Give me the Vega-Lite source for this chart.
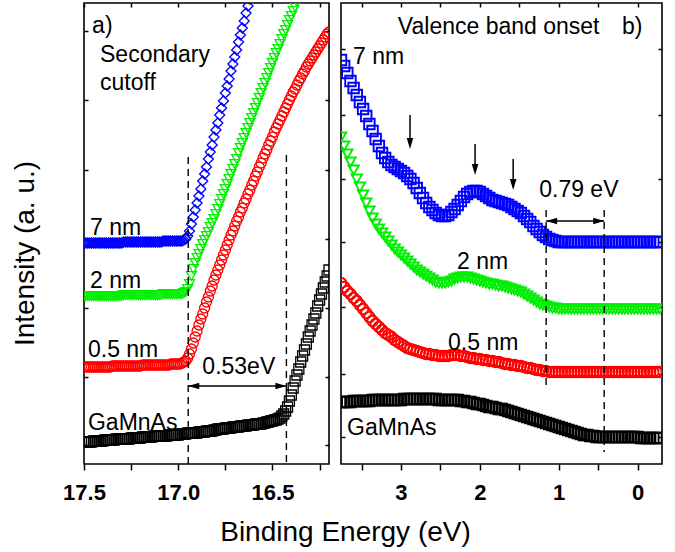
{
"$schema":"https://vega.github.io/schema/vega-lite/v6.json",
"padding":{"left":10,"top":1,"right":0,"bottom":0},
"background":"white",
"config":{"font":"Liberation Sans","view":{"stroke":"black","strokeWidth":1.6},
"axis":{"domain":false,"grid":false,"tickColor":"black","tickWidth":1.5,"labelColor":"black","labelFont":"Liberation Sans","labelFontSize":22,"labelFontWeight":"bold","titleFont":"Liberation Sans","titleFontSize":28,"titleFontWeight":"normal","titleColor":"black","labelPadding":12,"labelFlush":false,"labelOverlap":false}},
"bounds":"flush",
"spacing":12,
"resolve":{"scale":{"color":"independent","shape":"independent","x":"independent","y":"independent"}},
"datasets":{
"a":[
{"s":"7 nm","x":17.5,"y":221},{"s":"7 nm","x":17.48,"y":221},{"s":"7 nm","x":17.46,"y":221},{"s":"7 nm","x":17.44,"y":221},{"s":"7 nm","x":17.42,"y":221},{"s":"7 nm","x":17.4,"y":221},{"s":"7 nm","x":17.38,"y":221},{"s":"7 nm","x":17.36,"y":221},{"s":"7 nm","x":17.34,"y":221},{"s":"7 nm","x":17.32,"y":221},{"s":"7 nm","x":17.3,"y":221},{"s":"7 nm","x":17.28,"y":222},{"s":"7 nm","x":17.26,"y":222},{"s":"7 nm","x":17.24,"y":222},{"s":"7 nm","x":17.22,"y":222},{"s":"7 nm","x":17.2,"y":222},{"s":"7 nm","x":17.18,"y":222},{"s":"7 nm","x":17.16,"y":222},{"s":"7 nm","x":17.14,"y":222},{"s":"7 nm","x":17.12,"y":222},{"s":"7 nm","x":17.1,"y":222},{"s":"7 nm","x":17.08,"y":223},{"s":"7 nm","x":17.06,"y":223},{"s":"7 nm","x":17.04,"y":223},{"s":"7 nm","x":17.02,"y":223},{"s":"7 nm","x":17,"y":223},{"s":"7 nm","x":16.98,"y":223},
{"s":"7 nm","x":17.49,"y":221},{"s":"7 nm","x":17.47,"y":221},{"s":"7 nm","x":17.45,"y":221},{"s":"7 nm","x":17.43,"y":221},{"s":"7 nm","x":17.41,"y":221},{"s":"7 nm","x":17.39,"y":221},{"s":"7 nm","x":17.37,"y":221},{"s":"7 nm","x":17.35,"y":221},{"s":"7 nm","x":17.33,"y":221},{"s":"7 nm","x":17.31,"y":221},{"s":"7 nm","x":17.29,"y":222},{"s":"7 nm","x":17.27,"y":222},{"s":"7 nm","x":17.25,"y":222},{"s":"7 nm","x":17.23,"y":222},{"s":"7 nm","x":17.21,"y":222},{"s":"7 nm","x":17.19,"y":222},{"s":"7 nm","x":17.17,"y":222},{"s":"7 nm","x":17.15,"y":222},{"s":"7 nm","x":17.13,"y":222},{"s":"7 nm","x":17.11,"y":222},{"s":"7 nm","x":17.09,"y":222},{"s":"7 nm","x":17.07,"y":223},{"s":"7 nm","x":17.05,"y":223},{"s":"7 nm","x":17.03,"y":223},{"s":"7 nm","x":17.01,"y":223},{"s":"7 nm","x":16.99,"y":223},
{"s":"7 nm","x":16.97,"y":224},{"s":"7 nm","x":16.96,"y":225},{"s":"7 nm","x":16.95,"y":228},{"s":"7 nm","x":16.94,"y":233},{"s":"7 nm","x":16.93,"y":240},{"s":"7 nm","x":16.92,"y":247},{"s":"7 nm","x":16.91,"y":254},{"s":"7 nm","x":16.9,"y":261},{"s":"7 nm","x":16.89,"y":268},{"s":"7 nm","x":16.88,"y":275},{"s":"7 nm","x":16.87,"y":283},{"s":"7 nm","x":16.86,"y":290},{"s":"7 nm","x":16.85,"y":297},{"s":"7 nm","x":16.84,"y":305},{"s":"7 nm","x":16.83,"y":312},{"s":"7 nm","x":16.82,"y":319},{"s":"7 nm","x":16.81,"y":327},{"s":"7 nm","x":16.8,"y":334},{"s":"7 nm","x":16.79,"y":341},{"s":"7 nm","x":16.78,"y":349},{"s":"7 nm","x":16.77,"y":356},{"s":"7 nm","x":16.76,"y":363},{"s":"7 nm","x":16.75,"y":371},{"s":"7 nm","x":16.74,"y":378},{"s":"7 nm","x":16.73,"y":385},{"s":"7 nm","x":16.72,"y":393},{"s":"7 nm","x":16.71,"y":400},{"s":"7 nm","x":16.7,"y":407},{"s":"7 nm","x":16.69,"y":414},{"s":"7 nm","x":16.68,"y":422},{"s":"7 nm","x":16.67,"y":429},{"s":"7 nm","x":16.66,"y":436},{"s":"7 nm","x":16.65,"y":443},{"s":"7 nm","x":16.64,"y":451},{"s":"7 nm","x":16.63,"y":458},{"s":"7 nm","x":16.62,"y":465},
{"s":"2 nm","x":17.5,"y":168},{"s":"2 nm","x":17.48,"y":168},{"s":"2 nm","x":17.46,"y":168},{"s":"2 nm","x":17.44,"y":168},{"s":"2 nm","x":17.42,"y":168},{"s":"2 nm","x":17.4,"y":168},{"s":"2 nm","x":17.38,"y":168},{"s":"2 nm","x":17.36,"y":168},{"s":"2 nm","x":17.34,"y":168},{"s":"2 nm","x":17.32,"y":168},{"s":"2 nm","x":17.3,"y":168},{"s":"2 nm","x":17.28,"y":169},{"s":"2 nm","x":17.26,"y":169},{"s":"2 nm","x":17.24,"y":169},{"s":"2 nm","x":17.22,"y":169},{"s":"2 nm","x":17.2,"y":169},{"s":"2 nm","x":17.18,"y":169},{"s":"2 nm","x":17.16,"y":169},{"s":"2 nm","x":17.14,"y":169},{"s":"2 nm","x":17.12,"y":169},{"s":"2 nm","x":17.1,"y":169},{"s":"2 nm","x":17.08,"y":170},{"s":"2 nm","x":17.06,"y":170},{"s":"2 nm","x":17.04,"y":170},{"s":"2 nm","x":17.02,"y":170},{"s":"2 nm","x":17,"y":170},{"s":"2 nm","x":16.98,"y":170},
{"s":"2 nm","x":17.49,"y":168},{"s":"2 nm","x":17.47,"y":168},{"s":"2 nm","x":17.45,"y":168},{"s":"2 nm","x":17.43,"y":168},{"s":"2 nm","x":17.41,"y":168},{"s":"2 nm","x":17.39,"y":168},{"s":"2 nm","x":17.37,"y":168},{"s":"2 nm","x":17.35,"y":168},{"s":"2 nm","x":17.33,"y":168},{"s":"2 nm","x":17.31,"y":168},{"s":"2 nm","x":17.29,"y":169},{"s":"2 nm","x":17.27,"y":169},{"s":"2 nm","x":17.25,"y":169},{"s":"2 nm","x":17.23,"y":169},{"s":"2 nm","x":17.21,"y":169},{"s":"2 nm","x":17.19,"y":169},{"s":"2 nm","x":17.17,"y":169},{"s":"2 nm","x":17.15,"y":169},{"s":"2 nm","x":17.13,"y":169},{"s":"2 nm","x":17.11,"y":169},{"s":"2 nm","x":17.09,"y":169},{"s":"2 nm","x":17.07,"y":170},{"s":"2 nm","x":17.05,"y":170},{"s":"2 nm","x":17.03,"y":170},{"s":"2 nm","x":17.01,"y":170},{"s":"2 nm","x":16.99,"y":170},
{"s":"2 nm","x":16.97,"y":171},{"s":"2 nm","x":16.96,"y":172},{"s":"2 nm","x":16.95,"y":175},{"s":"2 nm","x":16.94,"y":180},{"s":"2 nm","x":16.93,"y":188},{"s":"2 nm","x":16.92,"y":195},{"s":"2 nm","x":16.91,"y":201},{"s":"2 nm","x":16.9,"y":206},{"s":"2 nm","x":16.89,"y":210},{"s":"2 nm","x":16.88,"y":215},{"s":"2 nm","x":16.87,"y":220},{"s":"2 nm","x":16.86,"y":224},{"s":"2 nm","x":16.85,"y":228},{"s":"2 nm","x":16.84,"y":232},{"s":"2 nm","x":16.83,"y":237},{"s":"2 nm","x":16.82,"y":241},{"s":"2 nm","x":16.81,"y":245},{"s":"2 nm","x":16.8,"y":250},{"s":"2 nm","x":16.79,"y":255},{"s":"2 nm","x":16.78,"y":260},{"s":"2 nm","x":16.77,"y":265},{"s":"2 nm","x":16.76,"y":270},{"s":"2 nm","x":16.75,"y":275},{"s":"2 nm","x":16.74,"y":280},{"s":"2 nm","x":16.73,"y":285},{"s":"2 nm","x":16.72,"y":290},{"s":"2 nm","x":16.71,"y":295},{"s":"2 nm","x":16.7,"y":300},{"s":"2 nm","x":16.69,"y":305},{"s":"2 nm","x":16.68,"y":311},{"s":"2 nm","x":16.67,"y":316},{"s":"2 nm","x":16.66,"y":321},{"s":"2 nm","x":16.65,"y":326},{"s":"2 nm","x":16.64,"y":331},{"s":"2 nm","x":16.63,"y":336},{"s":"2 nm","x":16.62,"y":341},{"s":"2 nm","x":16.61,"y":346},{"s":"2 nm","x":16.6,"y":351},{"s":"2 nm","x":16.59,"y":356},{"s":"2 nm","x":16.58,"y":361},{"s":"2 nm","x":16.57,"y":366},{"s":"2 nm","x":16.56,"y":371},{"s":"2 nm","x":16.55,"y":376},{"s":"2 nm","x":16.54,"y":381},{"s":"2 nm","x":16.53,"y":386},{"s":"2 nm","x":16.52,"y":391},{"s":"2 nm","x":16.51,"y":396},{"s":"2 nm","x":16.5,"y":401},{"s":"2 nm","x":16.49,"y":406},{"s":"2 nm","x":16.48,"y":411},{"s":"2 nm","x":16.47,"y":415},{"s":"2 nm","x":16.46,"y":420},{"s":"2 nm","x":16.45,"y":425},{"s":"2 nm","x":16.44,"y":430},{"s":"2 nm","x":16.43,"y":434},{"s":"2 nm","x":16.42,"y":439},{"s":"2 nm","x":16.41,"y":444},{"s":"2 nm","x":16.4,"y":448},{"s":"2 nm","x":16.39,"y":453},{"s":"2 nm","x":16.38,"y":457},{"s":"2 nm","x":16.37,"y":462},{"s":"2 nm","x":16.36,"y":466},
{"s":"0.5 nm","x":17.5,"y":97},{"s":"0.5 nm","x":17.48,"y":97},{"s":"0.5 nm","x":17.46,"y":97},{"s":"0.5 nm","x":17.44,"y":97},{"s":"0.5 nm","x":17.42,"y":97},{"s":"0.5 nm","x":17.4,"y":97},{"s":"0.5 nm","x":17.38,"y":97},{"s":"0.5 nm","x":17.36,"y":97},{"s":"0.5 nm","x":17.34,"y":98},{"s":"0.5 nm","x":17.32,"y":98},{"s":"0.5 nm","x":17.3,"y":98},{"s":"0.5 nm","x":17.28,"y":98},{"s":"0.5 nm","x":17.26,"y":98},{"s":"0.5 nm","x":17.24,"y":98},{"s":"0.5 nm","x":17.22,"y":98},{"s":"0.5 nm","x":17.2,"y":98},{"s":"0.5 nm","x":17.18,"y":99},{"s":"0.5 nm","x":17.16,"y":99},{"s":"0.5 nm","x":17.14,"y":99},{"s":"0.5 nm","x":17.12,"y":99},{"s":"0.5 nm","x":17.1,"y":99},{"s":"0.5 nm","x":17.08,"y":99},{"s":"0.5 nm","x":17.06,"y":99},{"s":"0.5 nm","x":17.04,"y":100},{"s":"0.5 nm","x":17.02,"y":100},{"s":"0.5 nm","x":17,"y":100},{"s":"0.5 nm","x":16.98,"y":101},
{"s":"0.5 nm","x":17.49,"y":97},{"s":"0.5 nm","x":17.47,"y":97},{"s":"0.5 nm","x":17.45,"y":97},{"s":"0.5 nm","x":17.43,"y":97},{"s":"0.5 nm","x":17.41,"y":97},{"s":"0.5 nm","x":17.39,"y":97},{"s":"0.5 nm","x":17.37,"y":97},{"s":"0.5 nm","x":17.35,"y":98},{"s":"0.5 nm","x":17.33,"y":98},{"s":"0.5 nm","x":17.31,"y":98},{"s":"0.5 nm","x":17.29,"y":98},{"s":"0.5 nm","x":17.27,"y":98},{"s":"0.5 nm","x":17.25,"y":98},{"s":"0.5 nm","x":17.23,"y":98},{"s":"0.5 nm","x":17.21,"y":98},{"s":"0.5 nm","x":17.19,"y":99},{"s":"0.5 nm","x":17.17,"y":99},{"s":"0.5 nm","x":17.15,"y":99},{"s":"0.5 nm","x":17.13,"y":99},{"s":"0.5 nm","x":17.11,"y":99},{"s":"0.5 nm","x":17.09,"y":99},{"s":"0.5 nm","x":17.07,"y":99},{"s":"0.5 nm","x":17.05,"y":99},{"s":"0.5 nm","x":17.03,"y":100},{"s":"0.5 nm","x":17.01,"y":100},{"s":"0.5 nm","x":16.99,"y":100},
{"s":"0.5 nm","x":16.97,"y":102},{"s":"0.5 nm","x":16.96,"y":103},{"s":"0.5 nm","x":16.95,"y":106},{"s":"0.5 nm","x":16.94,"y":110},{"s":"0.5 nm","x":16.93,"y":115},{"s":"0.5 nm","x":16.92,"y":121},{"s":"0.5 nm","x":16.91,"y":127},{"s":"0.5 nm","x":16.9,"y":133},{"s":"0.5 nm","x":16.89,"y":139},{"s":"0.5 nm","x":16.88,"y":145},{"s":"0.5 nm","x":16.87,"y":150},{"s":"0.5 nm","x":16.86,"y":156},{"s":"0.5 nm","x":16.85,"y":162},{"s":"0.5 nm","x":16.84,"y":167},{"s":"0.5 nm","x":16.83,"y":173},{"s":"0.5 nm","x":16.82,"y":178},{"s":"0.5 nm","x":16.81,"y":184},{"s":"0.5 nm","x":16.8,"y":189},{"s":"0.5 nm","x":16.79,"y":194},{"s":"0.5 nm","x":16.78,"y":199},{"s":"0.5 nm","x":16.77,"y":204},{"s":"0.5 nm","x":16.76,"y":209},{"s":"0.5 nm","x":16.75,"y":214},{"s":"0.5 nm","x":16.74,"y":219},{"s":"0.5 nm","x":16.73,"y":224},{"s":"0.5 nm","x":16.72,"y":229},{"s":"0.5 nm","x":16.71,"y":233},{"s":"0.5 nm","x":16.7,"y":238},{"s":"0.5 nm","x":16.69,"y":243},{"s":"0.5 nm","x":16.68,"y":247},{"s":"0.5 nm","x":16.67,"y":252},{"s":"0.5 nm","x":16.66,"y":256},{"s":"0.5 nm","x":16.65,"y":261},{"s":"0.5 nm","x":16.64,"y":265},{"s":"0.5 nm","x":16.63,"y":270},{"s":"0.5 nm","x":16.62,"y":274},{"s":"0.5 nm","x":16.61,"y":279},{"s":"0.5 nm","x":16.6,"y":283},{"s":"0.5 nm","x":16.59,"y":288},{"s":"0.5 nm","x":16.58,"y":292},{"s":"0.5 nm","x":16.57,"y":297},{"s":"0.5 nm","x":16.56,"y":301},{"s":"0.5 nm","x":16.55,"y":306},{"s":"0.5 nm","x":16.54,"y":310},{"s":"0.5 nm","x":16.53,"y":314},{"s":"0.5 nm","x":16.52,"y":319},{"s":"0.5 nm","x":16.51,"y":323},{"s":"0.5 nm","x":16.5,"y":327},{"s":"0.5 nm","x":16.49,"y":332},{"s":"0.5 nm","x":16.48,"y":336},{"s":"0.5 nm","x":16.47,"y":340},{"s":"0.5 nm","x":16.46,"y":344},{"s":"0.5 nm","x":16.45,"y":348},{"s":"0.5 nm","x":16.44,"y":352},{"s":"0.5 nm","x":16.43,"y":356},{"s":"0.5 nm","x":16.42,"y":360},{"s":"0.5 nm","x":16.41,"y":364},{"s":"0.5 nm","x":16.4,"y":368},{"s":"0.5 nm","x":16.39,"y":372},{"s":"0.5 nm","x":16.38,"y":375},{"s":"0.5 nm","x":16.37,"y":379},{"s":"0.5 nm","x":16.36,"y":383},{"s":"0.5 nm","x":16.35,"y":386},{"s":"0.5 nm","x":16.34,"y":390},{"s":"0.5 nm","x":16.33,"y":393},{"s":"0.5 nm","x":16.32,"y":397},{"s":"0.5 nm","x":16.31,"y":400},{"s":"0.5 nm","x":16.3,"y":403},{"s":"0.5 nm","x":16.29,"y":406},{"s":"0.5 nm","x":16.28,"y":409},{"s":"0.5 nm","x":16.27,"y":412},{"s":"0.5 nm","x":16.26,"y":415},{"s":"0.5 nm","x":16.25,"y":418},{"s":"0.5 nm","x":16.24,"y":421},{"s":"0.5 nm","x":16.23,"y":424},{"s":"0.5 nm","x":16.22,"y":427},{"s":"0.5 nm","x":16.21,"y":430},{"s":"0.5 nm","x":16.2,"y":432},
{"s":"GaMnAs","x":17.5,"y":22},{"s":"GaMnAs","x":17.48,"y":22},{"s":"GaMnAs","x":17.46,"y":22},{"s":"GaMnAs","x":17.44,"y":23},{"s":"GaMnAs","x":17.42,"y":23},{"s":"GaMnAs","x":17.4,"y":23},{"s":"GaMnAs","x":17.38,"y":24},{"s":"GaMnAs","x":17.36,"y":24},{"s":"GaMnAs","x":17.34,"y":24},{"s":"GaMnAs","x":17.32,"y":25},{"s":"GaMnAs","x":17.3,"y":25},{"s":"GaMnAs","x":17.28,"y":25},{"s":"GaMnAs","x":17.26,"y":25},{"s":"GaMnAs","x":17.24,"y":26},{"s":"GaMnAs","x":17.22,"y":26},{"s":"GaMnAs","x":17.2,"y":26},{"s":"GaMnAs","x":17.18,"y":27},{"s":"GaMnAs","x":17.16,"y":27},{"s":"GaMnAs","x":17.14,"y":27},{"s":"GaMnAs","x":17.12,"y":28},{"s":"GaMnAs","x":17.1,"y":28},{"s":"GaMnAs","x":17.08,"y":28},{"s":"GaMnAs","x":17.06,"y":28},{"s":"GaMnAs","x":17.04,"y":29},{"s":"GaMnAs","x":17.02,"y":29},{"s":"GaMnAs","x":17,"y":29},{"s":"GaMnAs","x":16.98,"y":30},{"s":"GaMnAs","x":16.96,"y":30},{"s":"GaMnAs","x":16.94,"y":31},{"s":"GaMnAs","x":16.92,"y":31},{"s":"GaMnAs","x":16.9,"y":31},{"s":"GaMnAs","x":16.88,"y":32},{"s":"GaMnAs","x":16.86,"y":32},{"s":"GaMnAs","x":16.84,"y":33},{"s":"GaMnAs","x":16.82,"y":33},{"s":"GaMnAs","x":16.8,"y":34},{"s":"GaMnAs","x":16.78,"y":35},{"s":"GaMnAs","x":16.76,"y":35},{"s":"GaMnAs","x":16.74,"y":36},{"s":"GaMnAs","x":16.72,"y":36},{"s":"GaMnAs","x":16.7,"y":37},{"s":"GaMnAs","x":16.68,"y":37},{"s":"GaMnAs","x":16.66,"y":38},{"s":"GaMnAs","x":16.64,"y":38},{"s":"GaMnAs","x":16.62,"y":39},{"s":"GaMnAs","x":16.6,"y":39},{"s":"GaMnAs","x":16.58,"y":40},{"s":"GaMnAs","x":16.56,"y":40},{"s":"GaMnAs","x":16.54,"y":41},{"s":"GaMnAs","x":16.52,"y":42},{"s":"GaMnAs","x":16.5,"y":43},{"s":"GaMnAs","x":16.48,"y":44},{"s":"GaMnAs","x":16.46,"y":46},
{"s":"GaMnAs","x":17.49,"y":22},{"s":"GaMnAs","x":17.47,"y":22},{"s":"GaMnAs","x":17.45,"y":23},{"s":"GaMnAs","x":17.43,"y":23},{"s":"GaMnAs","x":17.41,"y":23},{"s":"GaMnAs","x":17.39,"y":24},{"s":"GaMnAs","x":17.37,"y":24},{"s":"GaMnAs","x":17.35,"y":24},{"s":"GaMnAs","x":17.33,"y":25},{"s":"GaMnAs","x":17.31,"y":25},{"s":"GaMnAs","x":17.29,"y":25},{"s":"GaMnAs","x":17.27,"y":25},{"s":"GaMnAs","x":17.25,"y":26},{"s":"GaMnAs","x":17.23,"y":26},{"s":"GaMnAs","x":17.21,"y":26},{"s":"GaMnAs","x":17.19,"y":27},{"s":"GaMnAs","x":17.17,"y":27},{"s":"GaMnAs","x":17.15,"y":27},{"s":"GaMnAs","x":17.13,"y":28},{"s":"GaMnAs","x":17.11,"y":28},{"s":"GaMnAs","x":17.09,"y":28},{"s":"GaMnAs","x":17.07,"y":28},{"s":"GaMnAs","x":17.05,"y":29},{"s":"GaMnAs","x":17.03,"y":29},{"s":"GaMnAs","x":17.01,"y":29},{"s":"GaMnAs","x":16.99,"y":30},{"s":"GaMnAs","x":16.97,"y":30},{"s":"GaMnAs","x":16.95,"y":31},{"s":"GaMnAs","x":16.93,"y":31},{"s":"GaMnAs","x":16.91,"y":31},{"s":"GaMnAs","x":16.89,"y":32},{"s":"GaMnAs","x":16.87,"y":32},{"s":"GaMnAs","x":16.85,"y":33},{"s":"GaMnAs","x":16.83,"y":33},{"s":"GaMnAs","x":16.81,"y":34},{"s":"GaMnAs","x":16.79,"y":35},{"s":"GaMnAs","x":16.77,"y":35},{"s":"GaMnAs","x":16.75,"y":36},{"s":"GaMnAs","x":16.73,"y":36},{"s":"GaMnAs","x":16.71,"y":37},{"s":"GaMnAs","x":16.69,"y":37},{"s":"GaMnAs","x":16.67,"y":38},{"s":"GaMnAs","x":16.65,"y":38},{"s":"GaMnAs","x":16.63,"y":39},{"s":"GaMnAs","x":16.61,"y":39},{"s":"GaMnAs","x":16.59,"y":40},{"s":"GaMnAs","x":16.57,"y":40},{"s":"GaMnAs","x":16.55,"y":41},{"s":"GaMnAs","x":16.53,"y":42},{"s":"GaMnAs","x":16.51,"y":43},{"s":"GaMnAs","x":16.49,"y":44},{"s":"GaMnAs","x":16.47,"y":45},
{"s":"GaMnAs","x":16.45,"y":48},{"s":"GaMnAs","x":16.44,"y":50},{"s":"GaMnAs","x":16.43,"y":53},{"s":"GaMnAs","x":16.42,"y":57},{"s":"GaMnAs","x":16.41,"y":63},{"s":"GaMnAs","x":16.4,"y":69},{"s":"GaMnAs","x":16.39,"y":76},{"s":"GaMnAs","x":16.38,"y":83},{"s":"GaMnAs","x":16.37,"y":89},{"s":"GaMnAs","x":16.36,"y":95},{"s":"GaMnAs","x":16.35,"y":102},{"s":"GaMnAs","x":16.34,"y":108},{"s":"GaMnAs","x":16.33,"y":114},{"s":"GaMnAs","x":16.32,"y":120},{"s":"GaMnAs","x":16.31,"y":127},{"s":"GaMnAs","x":16.3,"y":133},{"s":"GaMnAs","x":16.29,"y":139},{"s":"GaMnAs","x":16.28,"y":145},{"s":"GaMnAs","x":16.27,"y":151},{"s":"GaMnAs","x":16.26,"y":158},{"s":"GaMnAs","x":16.25,"y":164},{"s":"GaMnAs","x":16.24,"y":170},{"s":"GaMnAs","x":16.23,"y":176},{"s":"GaMnAs","x":16.22,"y":182},{"s":"GaMnAs","x":16.21,"y":188},{"s":"GaMnAs","x":16.2,"y":194}
],
"b":[
{"s":"7 nm","x":3.76,"y":404},{"s":"7 nm","x":3.72,"y":398},{"s":"7 nm","x":3.68,"y":391},{"s":"7 nm","x":3.64,"y":383},{"s":"7 nm","x":3.6,"y":376},{"s":"7 nm","x":3.56,"y":369},{"s":"7 nm","x":3.52,"y":362},{"s":"7 nm","x":3.48,"y":355},{"s":"7 nm","x":3.44,"y":348},{"s":"7 nm","x":3.4,"y":340},{"s":"7 nm","x":3.36,"y":333},{"s":"7 nm","x":3.32,"y":325},{"s":"7 nm","x":3.28,"y":318},{"s":"7 nm","x":3.24,"y":311},{"s":"7 nm","x":3.2,"y":306},{"s":"7 nm","x":3.16,"y":302},{"s":"7 nm","x":3.12,"y":299},{"s":"7 nm","x":3.08,"y":297},{"s":"7 nm","x":3.04,"y":295},{"s":"7 nm","x":3,"y":293},{"s":"7 nm","x":2.96,"y":291},{"s":"7 nm","x":2.92,"y":288},{"s":"7 nm","x":2.88,"y":285},{"s":"7 nm","x":2.84,"y":281},{"s":"7 nm","x":2.8,"y":276},{"s":"7 nm","x":2.76,"y":271},{"s":"7 nm","x":2.72,"y":266},{"s":"7 nm","x":2.68,"y":261},{"s":"7 nm","x":2.64,"y":257},{"s":"7 nm","x":2.6,"y":254},{"s":"7 nm","x":2.56,"y":251},{"s":"7 nm","x":2.52,"y":249},{"s":"7 nm","x":2.48,"y":248},{"s":"7 nm","x":2.44,"y":248},{"s":"7 nm","x":2.4,"y":249},{"s":"7 nm","x":2.36,"y":252},{"s":"7 nm","x":2.32,"y":255},{"s":"7 nm","x":2.28,"y":259},{"s":"7 nm","x":2.24,"y":263},{"s":"7 nm","x":2.2,"y":267},{"s":"7 nm","x":2.16,"y":270},{"s":"7 nm","x":2.12,"y":272},{"s":"7 nm","x":2.08,"y":273},{"s":"7 nm","x":2.04,"y":273},{"s":"7 nm","x":2,"y":272},{"s":"7 nm","x":1.96,"y":270},{"s":"7 nm","x":1.92,"y":268},{"s":"7 nm","x":1.88,"y":266},{"s":"7 nm","x":1.84,"y":264},{"s":"7 nm","x":1.8,"y":263},{"s":"7 nm","x":1.76,"y":262},{"s":"7 nm","x":1.72,"y":261},{"s":"7 nm","x":1.68,"y":260},{"s":"7 nm","x":1.64,"y":259},{"s":"7 nm","x":1.6,"y":257},{"s":"7 nm","x":1.56,"y":255},{"s":"7 nm","x":1.52,"y":253},{"s":"7 nm","x":1.48,"y":251},{"s":"7 nm","x":1.44,"y":248},{"s":"7 nm","x":1.4,"y":245},{"s":"7 nm","x":1.36,"y":242},{"s":"7 nm","x":1.32,"y":238},{"s":"7 nm","x":1.28,"y":235},{"s":"7 nm","x":1.24,"y":232},{"s":"7 nm","x":1.2,"y":229},{"s":"7 nm","x":1.16,"y":227},{"s":"7 nm","x":1.12,"y":225},{"s":"7 nm","x":1.08,"y":224},{"s":"7 nm","x":1.04,"y":223},{"s":"7 nm","x":1,"y":222},{"s":"7 nm","x":0.96,"y":222},{"s":"7 nm","x":0.92,"y":222},{"s":"7 nm","x":0.88,"y":222},{"s":"7 nm","x":0.84,"y":222},{"s":"7 nm","x":0.8,"y":222},{"s":"7 nm","x":0.76,"y":222},{"s":"7 nm","x":0.72,"y":222},{"s":"7 nm","x":0.68,"y":222},{"s":"7 nm","x":0.64,"y":222},{"s":"7 nm","x":0.6,"y":222},{"s":"7 nm","x":0.56,"y":222},{"s":"7 nm","x":0.52,"y":222},{"s":"7 nm","x":0.48,"y":222},{"s":"7 nm","x":0.44,"y":222},{"s":"7 nm","x":0.4,"y":222},{"s":"7 nm","x":0.36,"y":222},{"s":"7 nm","x":0.32,"y":222},{"s":"7 nm","x":0.28,"y":222},{"s":"7 nm","x":0.24,"y":222},{"s":"7 nm","x":0.2,"y":222},{"s":"7 nm","x":0.16,"y":222},{"s":"7 nm","x":0.12,"y":222},{"s":"7 nm","x":0.08,"y":222},{"s":"7 nm","x":0.04,"y":222},{"s":"7 nm","x":0,"y":222},{"s":"7 nm","x":-0.04,"y":222},{"s":"7 nm","x":-0.08,"y":222},{"s":"7 nm","x":-0.12,"y":222},{"s":"7 nm","x":-0.16,"y":222},{"s":"7 nm","x":-0.2,"y":222},{"s":"7 nm","x":-0.24,"y":222},{"s":"7 nm","x":-0.28,"y":222},
{"s":"2 nm","x":3.76,"y":327},{"s":"2 nm","x":3.72,"y":318},{"s":"2 nm","x":3.68,"y":310},{"s":"2 nm","x":3.64,"y":302},{"s":"2 nm","x":3.6,"y":294},{"s":"2 nm","x":3.56,"y":285},{"s":"2 nm","x":3.52,"y":277},{"s":"2 nm","x":3.48,"y":269},{"s":"2 nm","x":3.44,"y":261},{"s":"2 nm","x":3.4,"y":253},{"s":"2 nm","x":3.36,"y":246},{"s":"2 nm","x":3.32,"y":240},{"s":"2 nm","x":3.28,"y":235},{"s":"2 nm","x":3.24,"y":231},{"s":"2 nm","x":3.2,"y":227},{"s":"2 nm","x":3.16,"y":223},{"s":"2 nm","x":3.12,"y":219},{"s":"2 nm","x":3.08,"y":215},{"s":"2 nm","x":3.04,"y":212},{"s":"2 nm","x":3,"y":209},{"s":"2 nm","x":2.96,"y":206},{"s":"2 nm","x":2.92,"y":203},{"s":"2 nm","x":2.88,"y":200},{"s":"2 nm","x":2.84,"y":197},{"s":"2 nm","x":2.8,"y":194},{"s":"2 nm","x":2.76,"y":192},{"s":"2 nm","x":2.72,"y":190},{"s":"2 nm","x":2.68,"y":188},{"s":"2 nm","x":2.64,"y":186},{"s":"2 nm","x":2.6,"y":184},{"s":"2 nm","x":2.56,"y":182},{"s":"2 nm","x":2.52,"y":181},{"s":"2 nm","x":2.48,"y":181},{"s":"2 nm","x":2.44,"y":181},{"s":"2 nm","x":2.4,"y":182},{"s":"2 nm","x":2.36,"y":183},{"s":"2 nm","x":2.32,"y":185},{"s":"2 nm","x":2.28,"y":186},{"s":"2 nm","x":2.24,"y":187},{"s":"2 nm","x":2.2,"y":187},{"s":"2 nm","x":2.16,"y":187},{"s":"2 nm","x":2.12,"y":186},{"s":"2 nm","x":2.08,"y":185},{"s":"2 nm","x":2.04,"y":184},{"s":"2 nm","x":2,"y":183},{"s":"2 nm","x":1.96,"y":182},{"s":"2 nm","x":1.92,"y":181},{"s":"2 nm","x":1.88,"y":180},{"s":"2 nm","x":1.84,"y":180},{"s":"2 nm","x":1.8,"y":179},{"s":"2 nm","x":1.76,"y":178},{"s":"2 nm","x":1.72,"y":178},{"s":"2 nm","x":1.68,"y":177},{"s":"2 nm","x":1.64,"y":176},{"s":"2 nm","x":1.6,"y":175},{"s":"2 nm","x":1.56,"y":174},{"s":"2 nm","x":1.52,"y":173},{"s":"2 nm","x":1.48,"y":172},{"s":"2 nm","x":1.44,"y":170},{"s":"2 nm","x":1.4,"y":168},{"s":"2 nm","x":1.36,"y":166},{"s":"2 nm","x":1.32,"y":164},{"s":"2 nm","x":1.28,"y":162},{"s":"2 nm","x":1.24,"y":160},{"s":"2 nm","x":1.2,"y":159},{"s":"2 nm","x":1.16,"y":158},{"s":"2 nm","x":1.12,"y":157},{"s":"2 nm","x":1.08,"y":156},{"s":"2 nm","x":1.04,"y":156},{"s":"2 nm","x":1,"y":155},{"s":"2 nm","x":0.96,"y":155},{"s":"2 nm","x":0.92,"y":155},{"s":"2 nm","x":0.88,"y":155},{"s":"2 nm","x":0.84,"y":155},{"s":"2 nm","x":0.8,"y":155},{"s":"2 nm","x":0.76,"y":155},{"s":"2 nm","x":0.72,"y":155},{"s":"2 nm","x":0.68,"y":155},{"s":"2 nm","x":0.64,"y":155},{"s":"2 nm","x":0.6,"y":155},{"s":"2 nm","x":0.56,"y":155},{"s":"2 nm","x":0.52,"y":155},{"s":"2 nm","x":0.48,"y":155},{"s":"2 nm","x":0.44,"y":155},{"s":"2 nm","x":0.4,"y":155},{"s":"2 nm","x":0.36,"y":155},{"s":"2 nm","x":0.32,"y":155},{"s":"2 nm","x":0.28,"y":155},{"s":"2 nm","x":0.24,"y":155},{"s":"2 nm","x":0.2,"y":155},{"s":"2 nm","x":0.16,"y":155},{"s":"2 nm","x":0.12,"y":155},{"s":"2 nm","x":0.08,"y":155},{"s":"2 nm","x":0.04,"y":155},{"s":"2 nm","x":0,"y":155},{"s":"2 nm","x":-0.04,"y":155},{"s":"2 nm","x":-0.08,"y":155},{"s":"2 nm","x":-0.12,"y":155},{"s":"2 nm","x":-0.16,"y":155},{"s":"2 nm","x":-0.2,"y":155},{"s":"2 nm","x":-0.24,"y":155},{"s":"2 nm","x":-0.28,"y":155},
{"s":"0.5 nm","x":3.76,"y":181},{"s":"0.5 nm","x":3.72,"y":177},{"s":"0.5 nm","x":3.68,"y":173},{"s":"0.5 nm","x":3.64,"y":170},{"s":"0.5 nm","x":3.6,"y":166},{"s":"0.5 nm","x":3.56,"y":163},{"s":"0.5 nm","x":3.52,"y":159},{"s":"0.5 nm","x":3.48,"y":155},{"s":"0.5 nm","x":3.44,"y":151},{"s":"0.5 nm","x":3.4,"y":147},{"s":"0.5 nm","x":3.36,"y":143},{"s":"0.5 nm","x":3.32,"y":140},{"s":"0.5 nm","x":3.28,"y":137},{"s":"0.5 nm","x":3.24,"y":134},{"s":"0.5 nm","x":3.2,"y":131},{"s":"0.5 nm","x":3.16,"y":129},{"s":"0.5 nm","x":3.12,"y":127},{"s":"0.5 nm","x":3.08,"y":124},{"s":"0.5 nm","x":3.04,"y":122},{"s":"0.5 nm","x":3,"y":120},{"s":"0.5 nm","x":2.96,"y":118},{"s":"0.5 nm","x":2.92,"y":116},{"s":"0.5 nm","x":2.88,"y":115},{"s":"0.5 nm","x":2.84,"y":114},{"s":"0.5 nm","x":2.8,"y":113},{"s":"0.5 nm","x":2.76,"y":112},{"s":"0.5 nm","x":2.72,"y":111},{"s":"0.5 nm","x":2.68,"y":110},{"s":"0.5 nm","x":2.64,"y":110},{"s":"0.5 nm","x":2.6,"y":109},{"s":"0.5 nm","x":2.56,"y":109},{"s":"0.5 nm","x":2.52,"y":108},{"s":"0.5 nm","x":2.48,"y":108},{"s":"0.5 nm","x":2.44,"y":108},{"s":"0.5 nm","x":2.4,"y":108},{"s":"0.5 nm","x":2.36,"y":109},{"s":"0.5 nm","x":2.32,"y":109},{"s":"0.5 nm","x":2.28,"y":109},{"s":"0.5 nm","x":2.24,"y":108},{"s":"0.5 nm","x":2.2,"y":108},{"s":"0.5 nm","x":2.16,"y":107},{"s":"0.5 nm","x":2.12,"y":106},{"s":"0.5 nm","x":2.08,"y":106},{"s":"0.5 nm","x":2.04,"y":105},{"s":"0.5 nm","x":2,"y":105},{"s":"0.5 nm","x":1.96,"y":104},{"s":"0.5 nm","x":1.92,"y":104},{"s":"0.5 nm","x":1.88,"y":103},{"s":"0.5 nm","x":1.84,"y":103},{"s":"0.5 nm","x":1.8,"y":102},{"s":"0.5 nm","x":1.76,"y":102},{"s":"0.5 nm","x":1.72,"y":101},{"s":"0.5 nm","x":1.68,"y":100},{"s":"0.5 nm","x":1.64,"y":100},{"s":"0.5 nm","x":1.6,"y":99},{"s":"0.5 nm","x":1.56,"y":99},{"s":"0.5 nm","x":1.52,"y":98},{"s":"0.5 nm","x":1.48,"y":98},{"s":"0.5 nm","x":1.44,"y":97},{"s":"0.5 nm","x":1.4,"y":96},{"s":"0.5 nm","x":1.36,"y":96},{"s":"0.5 nm","x":1.32,"y":95},{"s":"0.5 nm","x":1.28,"y":94},{"s":"0.5 nm","x":1.24,"y":94},{"s":"0.5 nm","x":1.2,"y":93},{"s":"0.5 nm","x":1.16,"y":93},{"s":"0.5 nm","x":1.12,"y":92},{"s":"0.5 nm","x":1.08,"y":92},{"s":"0.5 nm","x":1.04,"y":92},{"s":"0.5 nm","x":1,"y":92},{"s":"0.5 nm","x":0.96,"y":92},{"s":"0.5 nm","x":0.92,"y":92},{"s":"0.5 nm","x":0.88,"y":92},{"s":"0.5 nm","x":0.84,"y":92},{"s":"0.5 nm","x":0.8,"y":92},{"s":"0.5 nm","x":0.76,"y":92},{"s":"0.5 nm","x":0.72,"y":92},{"s":"0.5 nm","x":0.68,"y":92},{"s":"0.5 nm","x":0.64,"y":92},{"s":"0.5 nm","x":0.6,"y":92},{"s":"0.5 nm","x":0.56,"y":92},{"s":"0.5 nm","x":0.52,"y":92},{"s":"0.5 nm","x":0.48,"y":92},{"s":"0.5 nm","x":0.44,"y":92},{"s":"0.5 nm","x":0.4,"y":92},{"s":"0.5 nm","x":0.36,"y":92},{"s":"0.5 nm","x":0.32,"y":92},{"s":"0.5 nm","x":0.28,"y":92},{"s":"0.5 nm","x":0.24,"y":92},{"s":"0.5 nm","x":0.2,"y":92},{"s":"0.5 nm","x":0.16,"y":92},{"s":"0.5 nm","x":0.12,"y":92},{"s":"0.5 nm","x":0.08,"y":92},{"s":"0.5 nm","x":0.04,"y":92},{"s":"0.5 nm","x":0,"y":92},{"s":"0.5 nm","x":-0.04,"y":92},{"s":"0.5 nm","x":-0.08,"y":92},{"s":"0.5 nm","x":-0.12,"y":92},{"s":"0.5 nm","x":-0.16,"y":92},{"s":"0.5 nm","x":-0.2,"y":92},{"s":"0.5 nm","x":-0.24,"y":92},{"s":"0.5 nm","x":-0.28,"y":92},
{"s":"GaMnAs","x":3.76,"y":62},{"s":"GaMnAs","x":3.72,"y":62},{"s":"GaMnAs","x":3.68,"y":62},{"s":"GaMnAs","x":3.64,"y":62},{"s":"GaMnAs","x":3.6,"y":63},{"s":"GaMnAs","x":3.56,"y":63},{"s":"GaMnAs","x":3.52,"y":63},{"s":"GaMnAs","x":3.48,"y":63},{"s":"GaMnAs","x":3.44,"y":63},{"s":"GaMnAs","x":3.4,"y":63},{"s":"GaMnAs","x":3.36,"y":64},{"s":"GaMnAs","x":3.32,"y":64},{"s":"GaMnAs","x":3.28,"y":64},{"s":"GaMnAs","x":3.24,"y":64},{"s":"GaMnAs","x":3.2,"y":64},{"s":"GaMnAs","x":3.16,"y":64},{"s":"GaMnAs","x":3.12,"y":64},{"s":"GaMnAs","x":3.08,"y":64},{"s":"GaMnAs","x":3.04,"y":64},{"s":"GaMnAs","x":3,"y":64},{"s":"GaMnAs","x":2.96,"y":65},{"s":"GaMnAs","x":2.92,"y":65},{"s":"GaMnAs","x":2.88,"y":65},{"s":"GaMnAs","x":2.84,"y":65},{"s":"GaMnAs","x":2.8,"y":65},{"s":"GaMnAs","x":2.76,"y":65},{"s":"GaMnAs","x":2.72,"y":65},{"s":"GaMnAs","x":2.68,"y":65},{"s":"GaMnAs","x":2.64,"y":65},{"s":"GaMnAs","x":2.6,"y":65},{"s":"GaMnAs","x":2.56,"y":65},{"s":"GaMnAs","x":2.52,"y":64},{"s":"GaMnAs","x":2.48,"y":64},{"s":"GaMnAs","x":2.44,"y":64},{"s":"GaMnAs","x":2.4,"y":64},{"s":"GaMnAs","x":2.36,"y":64},{"s":"GaMnAs","x":2.32,"y":64},{"s":"GaMnAs","x":2.28,"y":64},{"s":"GaMnAs","x":2.24,"y":63},{"s":"GaMnAs","x":2.2,"y":63},{"s":"GaMnAs","x":2.16,"y":62},{"s":"GaMnAs","x":2.12,"y":62},{"s":"GaMnAs","x":2.08,"y":61},{"s":"GaMnAs","x":2.04,"y":60},{"s":"GaMnAs","x":2,"y":60},{"s":"GaMnAs","x":1.96,"y":59},{"s":"GaMnAs","x":1.92,"y":58},{"s":"GaMnAs","x":1.88,"y":57},{"s":"GaMnAs","x":1.84,"y":57},{"s":"GaMnAs","x":1.8,"y":56},{"s":"GaMnAs","x":1.76,"y":55},{"s":"GaMnAs","x":1.72,"y":55},{"s":"GaMnAs","x":1.68,"y":54},{"s":"GaMnAs","x":1.64,"y":53},{"s":"GaMnAs","x":1.6,"y":52},{"s":"GaMnAs","x":1.56,"y":51},{"s":"GaMnAs","x":1.52,"y":50},{"s":"GaMnAs","x":1.48,"y":49},{"s":"GaMnAs","x":1.44,"y":48},{"s":"GaMnAs","x":1.4,"y":47},{"s":"GaMnAs","x":1.36,"y":46},{"s":"GaMnAs","x":1.32,"y":45},{"s":"GaMnAs","x":1.28,"y":44},{"s":"GaMnAs","x":1.24,"y":43},{"s":"GaMnAs","x":1.2,"y":42},{"s":"GaMnAs","x":1.16,"y":41},{"s":"GaMnAs","x":1.12,"y":40},{"s":"GaMnAs","x":1.08,"y":39},{"s":"GaMnAs","x":1.04,"y":38},{"s":"GaMnAs","x":1,"y":37},{"s":"GaMnAs","x":0.96,"y":36},{"s":"GaMnAs","x":0.92,"y":35},{"s":"GaMnAs","x":0.88,"y":34},{"s":"GaMnAs","x":0.84,"y":33},{"s":"GaMnAs","x":0.8,"y":32},{"s":"GaMnAs","x":0.76,"y":31},{"s":"GaMnAs","x":0.72,"y":30},{"s":"GaMnAs","x":0.68,"y":29},{"s":"GaMnAs","x":0.64,"y":29},{"s":"GaMnAs","x":0.6,"y":28},{"s":"GaMnAs","x":0.56,"y":28},{"s":"GaMnAs","x":0.52,"y":27},{"s":"GaMnAs","x":0.48,"y":27},{"s":"GaMnAs","x":0.44,"y":27},{"s":"GaMnAs","x":0.4,"y":27},{"s":"GaMnAs","x":0.36,"y":27},{"s":"GaMnAs","x":0.32,"y":27},{"s":"GaMnAs","x":0.28,"y":27},{"s":"GaMnAs","x":0.24,"y":27},{"s":"GaMnAs","x":0.2,"y":27},{"s":"GaMnAs","x":0.16,"y":27},{"s":"GaMnAs","x":0.12,"y":27},{"s":"GaMnAs","x":0.08,"y":27},{"s":"GaMnAs","x":0.04,"y":27},{"s":"GaMnAs","x":0,"y":27},{"s":"GaMnAs","x":-0.04,"y":26},{"s":"GaMnAs","x":-0.08,"y":26},{"s":"GaMnAs","x":-0.12,"y":26},{"s":"GaMnAs","x":-0.16,"y":26},{"s":"GaMnAs","x":-0.2,"y":26},{"s":"GaMnAs","x":-0.24,"y":26},{"s":"GaMnAs","x":-0.28,"y":26}
],
"da":[{"x":16.947,"y":307,"y2":0},{"x":16.426,"y":309,"y2":0}],
"db":[{"x":1.159,"y":254,"y2":75},{"x":0.423,"y":254,"y2":12}],
"aa":[{"x":16.947,"x2":16.426,"y":78,"y2":78}],
"ab":[{"x":1.159,"x2":0.423,"y":243,"y2":243},{"x":2.885,"x2":2.885,"y":349,"y2":318},{"x":2.06,"x2":2.06,"y":320,"y2":292},{"x":1.577,"x2":1.577,"y":305,"y2":277}],
"ha":[{"x":16.947,"y":78,"d":"L"},{"x":16.426,"y":78,"d":"R"}],
"hb":[{"x":1.159,"y":243,"d":"L"},{"x":0.423,"y":243,"d":"R"},{"x":2.885,"y":315,"d":"D"},{"x":2.06,"y":289,"d":"D"},{"x":1.577,"y":274,"d":"D"}],
"ta":[{"x":17.457,"y":431,"t":"a)"},{"x":17.415,"y":402,"t":"Secondary"},{"x":17.415,"y":374,"t":"cutoff"},{"x":17.468,"y":229,"t":"7 nm"},{"x":17.468,"y":176,"t":"2 nm"},{"x":17.479,"y":107,"t":"0.5 nm"},{"x":17.479,"y":34,"t":"GaMnAs"},{"x":16.872,"y":90,"t":"0.53eV"}],
"tb":[{"x":3.039,"y":430,"t":"Valence band onset"},{"x":0.197,"y":430,"t":"b)"},{"x":3.608,"y":400,"t":"7 nm"},{"x":2.288,"y":195,"t":"2 nm"},{"x":2.403,"y":114,"t":"0.5 nm"},{"x":3.684,"y":29,"t":"GaMnAs"},{"x":1.247,"y":267,"t":"0.79 eV"}]
},
"hconcat":[
{"width":245,"height":461,
"resolve":{"axis":{"x":"independent","y":"independent"},"scale":{"shape":"independent"}},
"layer":[
{"data":{"name":"a"},"mark":{"type":"point","filled":false,"strokeWidth":1.3,"size":100,"opacity":1,"clip":true},
"encoding":{
"x":{"field":"x","type":"quantitative","scale":{"domain":[17.5,16.2],"nice":false,"zero":false},
"axis":{"orient":"bottom","values":[17.5,17.25,17,16.75,16.5,16.25],"labelExpr":"datum.value % 0.5 == 0 ? format(datum.value, '.1f') : ''","tickSize":6,"title":"Binding Energy (eV)","titleX":261,"titleY":76,"titleAlign":"center","titleBaseline":"alphabetic"}},
"y":{"field":"y","type":"quantitative","scale":{"domain":[0,461],"nice":false,"zero":false},
"axis":{"orient":"left","values":[19,87,156,225,294,364,433],"labels":false,"tickSize":-4,"title":"Intensity (a. u.)","titleX":-51,"titleY":250,"titleAlign":"center","titleBaseline":"alphabetic","titleAngle":270}},
"color":{"field":"s","type":"nominal","scale":{"domain":["GaMnAs","0.5 nm","2 nm","7 nm"],"range":["#000000","#ff0000","#00ee00","#0000ff"]},"legend":null},
"shape":{"field":"s","type":"nominal","scale":{"domain":["GaMnAs","0.5 nm","2 nm","7 nm"],"range":["square","circle","triangle-down","diamond"]},"legend":null}}},
{"data":{"name":"da"},"mark":{"type":"rule","strokeDash":[7,5],"strokeWidth":1.4,"color":"black"},
"encoding":{
"x":{"field":"x","type":"quantitative","scale":{"domain":[17.5,16.2],"nice":false,"zero":false},"axis":{"orient":"top","values":[17.5,17.25,17,16.75,16.5,16.25],"labels":false,"tickSize":-4,"title":null}},
"y":{"field":"y","type":"quantitative","scale":{"domain":[0,461],"nice":false,"zero":false},"axis":{"orient":"right","values":[19,87,156,225,294,364,433],"labels":false,"tickSize":-4,"title":null}},
"y2":{"field":"y2"}}},
{"data":{"name":"aa"},"mark":{"type":"rule","strokeWidth":1.5,"color":"black"},
"encoding":{
"x":{"field":"x","type":"quantitative","scale":{"domain":[17.5,16.2],"nice":false,"zero":false},"axis":null},
"x2":{"field":"x2"},
"y":{"field":"y","type":"quantitative","scale":{"domain":[0,461],"nice":false,"zero":false},"axis":null},
"y2":{"field":"y2"}}},
{"data":{"name":"ha"},"mark":{"type":"point","filled":true,"color":"black","size":484,"strokeWidth":0,"opacity":1},
"encoding":{
"x":{"field":"x","type":"quantitative","scale":{"domain":[17.5,16.2],"nice":false,"zero":false},"axis":null},
"y":{"field":"y","type":"quantitative","scale":{"domain":[0,461],"nice":false,"zero":false},"axis":null},
"shape":{"field":"d","type":"nominal","scale":{"domain":["L","R","D"],"range":["M0,0L1,-0.3L1,0.3Z","M0,0L-1,-0.3L-1,0.3Z","M0,0L-0.3,-1L0.3,-1Z"]},"legend":null}}},
{"data":{"name":"ta"},"mark":{"type":"text","align":"left","baseline":"alphabetic","fontSize":23,"font":"Liberation Sans","color":"black"},
"encoding":{
"x":{"field":"x","type":"quantitative","scale":{"domain":[17.5,16.2],"nice":false,"zero":false},"axis":null},
"y":{"field":"y","type":"quantitative","scale":{"domain":[0,461],"nice":false,"zero":false},"axis":null},
"text":{"field":"t"}}}
]},
{"width":321,"height":461,
"resolve":{"axis":{"x":"independent","y":"independent"},"scale":{"shape":"independent"}},
"layer":[
{"data":{"name":"b"},"mark":{"type":"point","filled":false,"strokeWidth":1.9,"size":110,"opacity":1,"clip":true},
"encoding":{
"x":{"field":"x","type":"quantitative","scale":{"domain":[3.76,-0.31],"nice":false,"zero":false},
"axis":{"orient":"bottom","values":[3.5,3,2.5,2,1.5,1,0.5,0],"labelExpr":"datum.value % 1 == 0 ? format(datum.value, 'd') : ''","tickSize":6,"title":null}},
"y":{"field":"y","type":"quantitative","scale":{"domain":[0,461],"nice":false,"zero":false},
"axis":{"orient":"left","values":[27,90,157,222,285,349,415],"labels":false,"tickSize":-4,"title":null}},
"color":{"field":"s","type":"nominal","scale":{"domain":["GaMnAs","0.5 nm","2 nm","7 nm"],"range":["#000000","#ff0000","#00ee00","#0000ff"]},"legend":null},
"shape":{"field":"s","type":"nominal","scale":{"domain":["GaMnAs","0.5 nm","2 nm","7 nm"],"range":["square","circle","triangle-down","square"]},"legend":null}}},
{"data":{"name":"db"},"mark":{"type":"rule","strokeDash":[7,5],"strokeWidth":1.4,"color":"black"},
"encoding":{
"x":{"field":"x","type":"quantitative","scale":{"domain":[3.76,-0.31],"nice":false,"zero":false},"axis":{"orient":"top","values":[3.5,3,2.5,2,1.5,1,0.5,0],"labels":false,"tickSize":-4,"title":null}},
"y":{"field":"y","type":"quantitative","scale":{"domain":[0,461],"nice":false,"zero":false},"axis":{"orient":"right","values":[27,90,157,222,285,349,415],"labels":false,"tickSize":-4,"title":null}},
"y2":{"field":"y2"}}},
{"data":{"name":"ab"},"mark":{"type":"rule","strokeWidth":1.5,"color":"black"},
"encoding":{
"x":{"field":"x","type":"quantitative","scale":{"domain":[3.76,-0.31],"nice":false,"zero":false},"axis":null},
"x2":{"field":"x2"},
"y":{"field":"y","type":"quantitative","scale":{"domain":[0,461],"nice":false,"zero":false},"axis":null},
"y2":{"field":"y2"}}},
{"data":{"name":"hb"},"mark":{"type":"point","filled":true,"color":"black","size":484,"strokeWidth":0,"opacity":1},
"encoding":{
"x":{"field":"x","type":"quantitative","scale":{"domain":[3.76,-0.31],"nice":false,"zero":false},"axis":null},
"y":{"field":"y","type":"quantitative","scale":{"domain":[0,461],"nice":false,"zero":false},"axis":null},
"shape":{"field":"d","type":"nominal","scale":{"domain":["L","R","D"],"range":["M0,0L1,-0.3L1,0.3Z","M0,0L-1,-0.3L-1,0.3Z","M0,0L-0.3,-1L0.3,-1Z"]},"legend":null}}},
{"data":{"name":"tb"},"mark":{"type":"text","align":"left","baseline":"alphabetic","fontSize":23,"font":"Liberation Sans","color":"black"},
"encoding":{
"x":{"field":"x","type":"quantitative","scale":{"domain":[3.76,-0.31],"nice":false,"zero":false},"axis":null},
"y":{"field":"y","type":"quantitative","scale":{"domain":[0,461],"nice":false,"zero":false},"axis":null},
"text":{"field":"t"}}}
]}
]
}
